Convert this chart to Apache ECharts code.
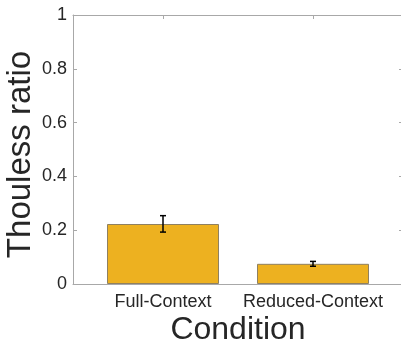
<!DOCTYPE html>
<html><head><meta charset="utf-8">
<script src="https://cdn.jsdelivr.net/npm/echarts@6/dist/echarts.min.js"></script>
<style>html,body{margin:0;padding:0;background:#fff}#c{width:401px;height:346px}</style>
</head><body><div id="c"></div>
<script>
var categories = ['Full-Context', 'Reduced-Context'];
var values = [0.223, 0.075];
var errLow = [0.193, 0.066];
var errHigh = [0.254, 0.084];
var yTicks = [0, 0.2, 0.4, 0.6, 0.8, 1];

var positions = categories.map(function (c, i) { return i + 1; });
var barData = values.map(function (v, i) { return [positions[i], v]; });
var errData = values.map(function (v, i) { return [positions[i], errLow[i], errHigh[i]]; });

var font = 'Liberation Sans, Arial, Helvetica, sans-serif';
var axisCol = '#a8a8a8';
var txtCol = '#262626';

var chart = echarts.init(document.getElementById('c'), null, {renderer: 'canvas'});
chart.setOption({
  animation: false,
  grid: {left: 73, right: -2, top: 15, bottom: 62, containLabel: false, outerBoundsMode: 'none'},
  xAxis: [{
    type: 'value', min: 0.4, max: 2.6, position: 'bottom',
    name: 'Condition', nameLocation: 'middle', nameGap: 30, nameMoveOverlap: false,
    nameTextStyle: {fontFamily: font, fontSize: 32, color: txtCol},
    axisLine: {show: true, lineStyle: {color: axisCol, width: 1}},
    axisTick: {show: true, inside: true, length: 4, customValues: positions, lineStyle: {color: axisCol}},
    axisLabel: {show: true, customValues: positions, margin: 9, fontFamily: font, fontSize: 18, color: txtCol,
      formatter: function (v) { var i = positions.indexOf(Math.round(v)); return i >= 0 ? categories[i] : ''; }},
    splitLine: {show: false}
  }, {
    type: 'value', min: 0.4, max: 2.6, position: 'top',
    axisLine: {show: true, onZero: false, lineStyle: {color: axisCol, width: 1}},
    axisTick: {show: true, inside: true, length: 4, customValues: positions, lineStyle: {color: axisCol}},
    axisLabel: {show: false}, splitLine: {show: false}
  }],
  yAxis: [{
    type: 'value', min: 0, max: 1, interval: 0.2, position: 'left',
    name: 'Thouless ratio', nameLocation: 'middle', nameGap: 36, nameMoveOverlap: false,
    nameTextStyle: {fontFamily: font, fontSize: 33, color: txtCol, padding: [0, 10, 0, 0]},
    axisLine: {show: true, lineStyle: {color: axisCol, width: 1}},
    axisTick: {show: true, inside: true, length: 4, lineStyle: {color: axisCol}},
    axisLabel: {show: true, margin: 6, fontFamily: font, fontSize: 18, color: txtCol,
      formatter: function (v) { return String(Math.round(v * 10) / 10); }},
    splitLine: {show: false}
  }, {
    type: 'value', min: 0, max: 1, interval: 0.2, position: 'right',
    axisLine: {show: true, onZero: false, lineStyle: {color: axisCol, width: 1}},
    axisTick: {show: true, inside: true, length: 4, lineStyle: {color: axisCol}},
    axisLabel: {show: false}, splitLine: {show: false}
  }],
  series: [{
    type: 'bar', xAxisIndex: 0, yAxisIndex: 0, data: barData, barWidth: 112,
    itemStyle: {color: '#EDB120', borderColor: '#8f8060', borderWidth: 1}
  }, {
    type: 'custom', xAxisIndex: 0, yAxisIndex: 0, data: errData, z: 10,
    renderItem: function (params, api) {
      var x = api.value(0);
      var lo = api.coord([x, api.value(1)]);
      var hi = api.coord([x, api.value(2)]);
      var cw = 3;
      var st = {stroke: '#000', lineWidth: 1.5};
      return {type: 'group', children: [
        {type: 'line', shape: {x1: lo[0], y1: lo[1], x2: hi[0], y2: hi[1]}, style: st},
        {type: 'line', shape: {x1: lo[0] - cw, y1: lo[1], x2: lo[0] + cw, y2: lo[1]}, style: st},
        {type: 'line', shape: {x1: hi[0] - cw, y1: hi[1], x2: hi[0] + cw, y2: hi[1]}, style: st}
      ]};
    }
  }]
});
</script></body></html>
